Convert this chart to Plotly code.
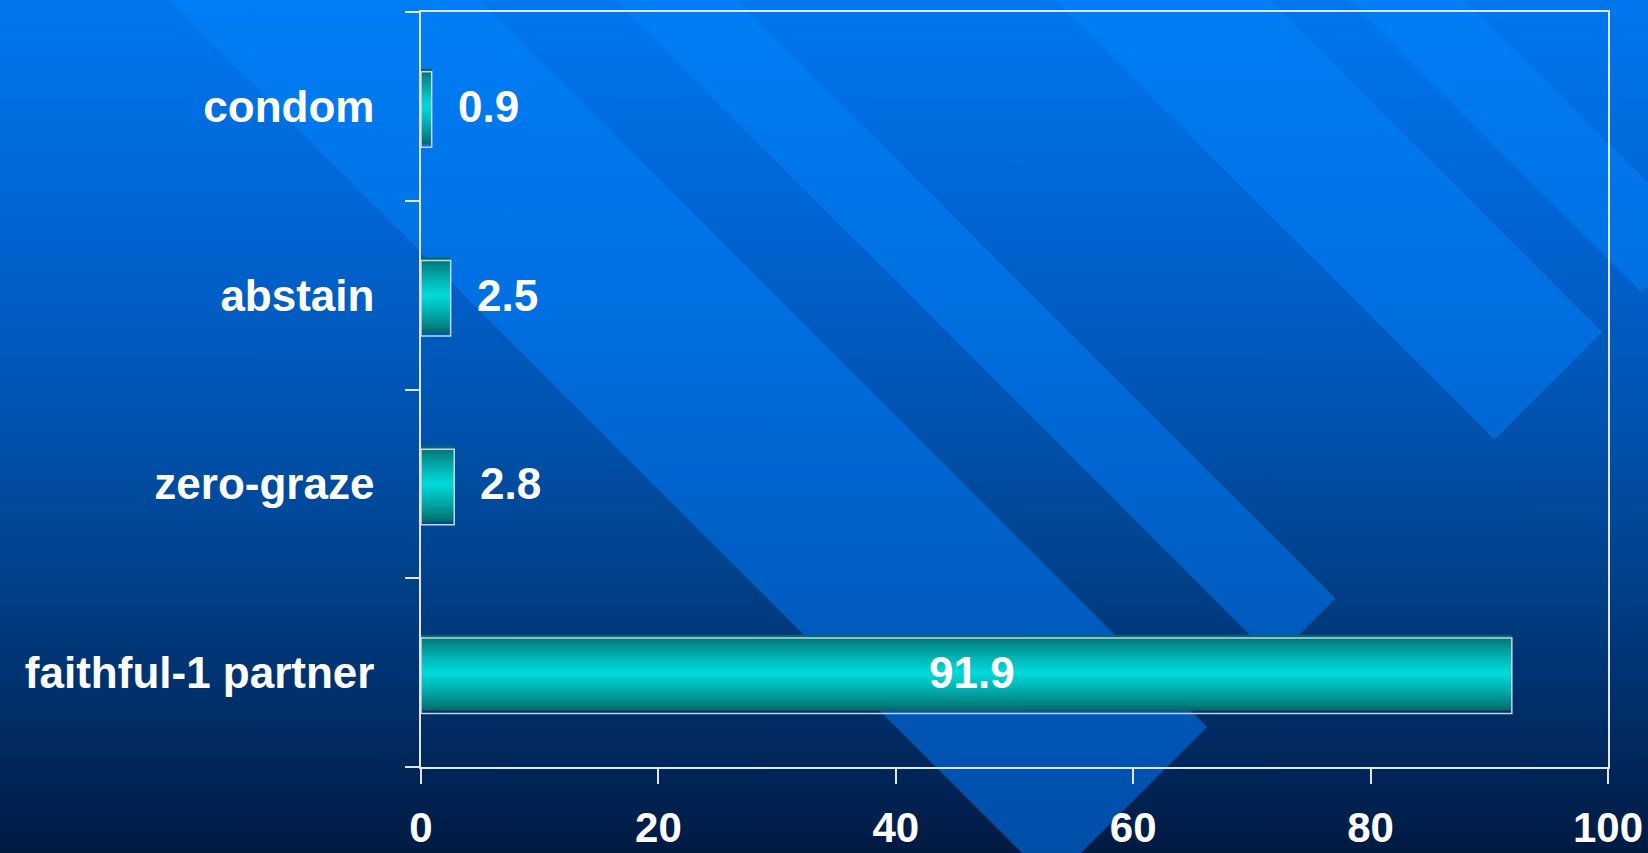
import urllib.parse
import plotly.graph_objects as go

# ---------------- data ----------------
categories = ["faithful-1 partner", "zero-graze", "abstain", "condom"]
values = [91.9, 2.8, 2.5, 0.9]
x_tick_values = [0, 20, 40, 60, 80, 100]
x_tick_labels = ["0", "20", "40", "60", "80", "100"]

# ---------------- figure geometry ----------------
W, H = 1648, 853
ML, MR, MT, MB = 421, 40, 12, 86
PW, PH = W - ML - MR, H - MT - MB

FONT = "Liberation Sans, Arial, Helvetica, sans-serif"
AXIS_COLOR = "#dfe6f0"

# ---------------- background (template-style gradient with diagonal bands) ----------------
def band(a, c, s=1934, top=-20):
    pts = [(a + top, top), (c + top, top), ((s + c) / 2, (s - c) / 2), ((s + a) / 2, (s - a) / 2)]
    return " ".join(f"{x:.1f},{y:.1f}" for x, y in pts)

bands = [band(169, 480), band(615, 737), band(1055, 1270), band(1349, 1465)]
svg = (
    f"<svg xmlns='http://www.w3.org/2000/svg' width='{W}' height='{H}' viewBox='0 0 {W} {H}' preserveAspectRatio='none'>"
    "<defs>"
    "<linearGradient id='g' x1='0' y1='0' x2='0' y2='1'>"
    "<stop offset='0' stop-color='#0077ee'/>"
    "<stop offset='0.25' stop-color='#0065d4'/>"
    "<stop offset='0.5' stop-color='#0052ae'/>"
    "<stop offset='0.674' stop-color='#00418a'/>"
    "<stop offset='0.85' stop-color='#002c64'/>"
    "<stop offset='1' stop-color='#001a42'/>"
    "</linearGradient>"
    f"<linearGradient id='b' gradientUnits='userSpaceOnUse' x1='0' y1='0' x2='0' y2='{H}'>"
    "<stop offset='0' stop-color='#007ef5'/>"
    "<stop offset='0.35' stop-color='#0070e2'/>"
    "<stop offset='0.674' stop-color='#005ec4'/>"
    "<stop offset='1' stop-color='#004ea8'/>"
    "</linearGradient>"
    "</defs>"
    f"<rect x='0' y='0' width='{W}' height='{H}' fill='url(#g)'/>"
    + "".join(f"<polygon points='{p}' fill='url(#b)'/>" for p in bands)
    + "</svg>"
)
bg_src = "data:image/svg+xml;charset=utf-8," + urllib.parse.quote(svg)

fig = go.Figure()

# ---------------- bars: layered to imitate the cylindrical teal gradient ----------------
bar_width = 0.40
n_layers = 16
dark = (0, 108, 108)
light = (0, 216, 216)
for k in range(n_layers):
    t = k / (n_layers - 1)
    w = bar_width * (1 - k / n_layers)
    col = tuple(int(round(d + (l - d) * t ** 0.85)) for d, l in zip(dark, light))
    fig.add_trace(go.Bar(
        x=values, y=categories, orientation="h", width=w,
        marker=dict(color=f"rgb{col}", line=dict(width=0)),
        hoverinfo="skip", showlegend=False,
    ))

# thin light outline, slightly offset like in the original rendering
fig.add_trace(go.Bar(
    x=values, y=categories, orientation="h", width=bar_width,
    offset=-bar_width / 2 - 0.016,
    marker=dict(color="rgba(0,0,0,0)", line=dict(color="#c8d4e4", width=1.5)),
    hoverinfo="skip", showlegend=False,
))

# ---------------- value labels ----------------
for cat, v in zip(categories, values):
    if v > 50:
        fig.add_annotation(x=v / 2, y=cat, text=f"{v}", showarrow=False,
                           xanchor="center", yanchor="middle", xshift=6,
                           font=dict(family=FONT, size=44, color="white", weight="bold"))
    else:
        fig.add_annotation(x=v, y=cat, text=f"{v}", showarrow=False,
                           xanchor="left", yanchor="middle", xshift=24,
                           font=dict(family=FONT, size=44, color="white", weight="bold"))

fig.update_layout(
    width=W, height=H,
    autosize=False,
    margin=dict(l=ML, r=MR, t=MT, b=MB, pad=0, autoexpand=False),
    barmode="overlay",
    paper_bgcolor="#003a80",
    plot_bgcolor="rgba(0,0,0,0)",
    showlegend=False,
    font=dict(family=FONT, size=44, color="white", weight="bold"),
    images=[dict(
        source=bg_src, xref="paper", yref="paper",
        x=-ML / PW, y=1 + MT / PH, sizex=W / PW, sizey=H / PH,
        xanchor="left", yanchor="top", sizing="stretch", layer="below",
    )],
)

fig.update_xaxes(
    automargin=False,
    range=[0, 100], tickvals=x_tick_values, ticktext=x_tick_labels,
    showgrid=False, zeroline=False,
    showline=True, linecolor=AXIS_COLOR, linewidth=1.5, mirror=True,
    ticks="outside", ticklen=15, tickwidth=1.5, tickcolor=AXIS_COLOR,
    tickfont=dict(family=FONT, size=42, color="white", weight="bold"),
    ticklabelstandoff=8,
    fixedrange=True,
)
fig.update_yaxes(
    automargin=False,
    type="category", categoryorder="array", categoryarray=categories,
    range=[-0.5, len(categories) - 0.5],
    showgrid=False, zeroline=False,
    showline=True, linecolor=AXIS_COLOR, linewidth=1.5, mirror=True,
    ticks="outside", tickson="boundaries", ticklen=14, tickwidth=1.5, tickcolor=AXIS_COLOR,
    tickfont=dict(family=FONT, size=44, color="white", weight="bold"),
    ticklabelstandoff=36,
    fixedrange=True,
)

fig.write_html(
    "out.html",
    config={"displayModeBar": False},
    post_script="document.body.style.margin='0';document.body.style.overflow='hidden';",
)
